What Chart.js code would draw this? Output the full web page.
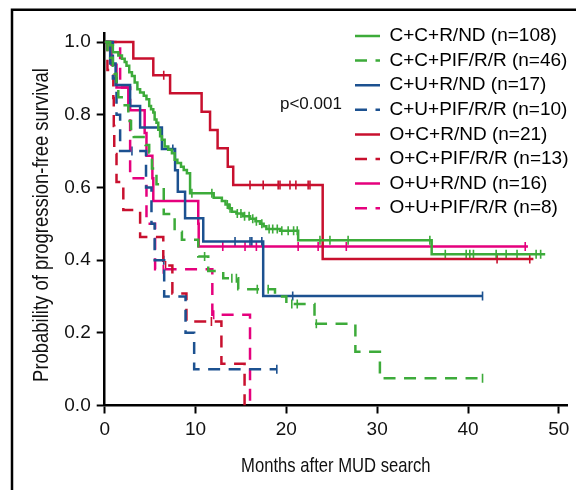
<!DOCTYPE html>
<html>
<head>
<meta charset="utf-8">
<script src="https://cdn.jsdelivr.net/npm/chart.js@4.4.1/dist/chart.umd.min.js"></script>
<style>
  html, body { margin: 0; padding: 0; background: #fff; }
  #wrap { width: 576px; height: 490px; position: relative; }
</style>
</head>
<body>
<div id="wrap"><canvas id="km" width="576" height="490"></canvas></div>
<script>
// ---------------- data ----------------
const seriesNames = [
  'C+C+R/ND (n=108)', 'C+C+PIF/R/R (n=46)', 'C+U+R/ND (n=17)', 'C+U+PIF/R/R (n=10)',
  'O+C+R/ND (n=21)', 'O+C+PIF/R/R (n=13)', 'O+U+R/ND (n=16)', 'O+U+PIF/R/R (n=8)'
];

// C+C+R/ND
const tCCR = [0, 0.6, 0.9, 1.5, 1.9, 2.2, 2.4, 2.7, 3.0, 3.3, 3.6, 3.9, 4.3, 4.6, 4.9, 5.1, 5.35, 5.5, 5.7, 5.9, 6.1, 6.3, 6.6, 7.0, 7.4, 7.7, 8.0, 8.4, 8.7, 9.05, 9.4, 12.0, 12.9, 13.3, 13.7, 14.0, 14.5, 15.2, 16.0, 16.6, 17.1, 17.5, 17.8, 19.3, 21.3, 36.0, 48.5];
const sCCR = [1, 0.991, 0.972, 0.963, 0.954, 0.945, 0.935, 0.917, 0.907, 0.889, 0.870, 0.861, 0.852, 0.843, 0.824, 0.815, 0.806, 0.787, 0.778, 0.759, 0.741, 0.731, 0.713, 0.704, 0.694, 0.676, 0.667, 0.657, 0.648, 0.639, 0.584, 0.572, 0.563, 0.553, 0.543, 0.533, 0.528, 0.521, 0.514, 0.507, 0.500, 0.493, 0.486, 0.481, 0.455, 0.416, 0.416];
const cCCR = [9.6, 11.8, 13.5, 13.8, 14.6, 15.0, 15.4, 15.9, 16.3, 16.7, 17.3, 18.1, 18.5, 19.0, 19.5, 20.2, 20.8, 21.2, 23.7, 24.8, 26.8, 35.8, 37.5, 39.8, 40.2, 40.6, 43.1, 44.2, 45.4, 47.5, 48.0];

// C+C+PIF/R/R
const tCCP = [0, 0.3, 0.6, 0.9, 1.1, 1.3, 1.5, 2.2, 2.6, 2.9, 3.2, 4.5, 4.9, 5.2, 5.7, 6.5, 7.7, 8.5, 10.3, 11.4, 13.05, 14.7, 18.75, 20.0, 23.1, 27.6, 30.3, 41.6];
const sCCP = [1, 0.978, 0.957, 0.935, 0.913, 0.870, 0.848, 0.826, 0.783, 0.761, 0.739, 0.717, 0.696, 0.652, 0.609, 0.527, 0.478, 0.456, 0.410, 0.370, 0.350, 0.320, 0.300, 0.279, 0.225, 0.148, 0.075, 0.075];
const cCCP = [11.0, 14.0, 14.5, 16.8, 18.0, 20.6, 21.2, 23.3, 41.6];

// C+U+R/ND
const tCUR = [0, 0.6, 1.2, 2.8, 3.9, 6.3, 7.75, 8.05, 8.85, 10.85, 17.45, 41.6];
const sCUR = [1, 0.941, 0.882, 0.824, 0.765, 0.706, 0.647, 0.588, 0.515, 0.451, 0.301, 0.301];
const cCUR = [7.5, 14.35, 16.0, 16.2, 17.3, 20.7, 41.6];

// C+U+PIF/R/R
const tCUP = [0, 0.9, 1.3, 1.7, 4.55, 5.15, 5.5, 6.55, 8.9, 9.85, 18.95];
const sCUP = [1, 0.9, 0.8, 0.7, 0.6, 0.5, 0.4, 0.3, 0.2, 0.1, 0.1];
const cCUP = [3.0, 6.5, 18.95];

// O+C+R/ND
const tOCR = [0, 3.15, 5.35, 7.2, 10.67, 11.6, 12.43, 13.55, 14.15, 24.0, 47.2];
const sOCR = [1, 0.955, 0.909, 0.859, 0.808, 0.758, 0.708, 0.657, 0.607, 0.403, 0.403];
const cOCR = [6.5, 16.0, 17.45, 19.1, 19.3, 20.4, 21.05, 22.4, 22.6, 43.2, 46.8];

// O+C+PIF/R/R
const tOCP = [0, 0.3, 0.95, 1.0, 1.05, 1.3, 2.05, 3.9, 6.45, 7.45, 9.0, 12.85, 15.4];
const sOCP = [1, 0.923, 0.846, 0.769, 0.692, 0.615, 0.538, 0.464, 0.385, 0.308, 0.231, 0.115, 0];
const cOCP = [6.7, 11.75];

// O+U+R/ND
const tOUR = [0, 0.75, 1.3, 2.6, 4.4, 4.6, 5.25, 5.35, 10.3, 10.35, 46.6];
const sOUR = [1, 0.9375, 0.875, 0.8125, 0.75, 0.6875, 0.625, 0.5625, 0.5, 0.4375, 0.4375];
const cOUR = [13.0, 15.45, 16.7, 21.3, 23.5, 26.6, 46.3];

// O+U+PIF/R/R
const tOUP = [0, 1.7, 2.8, 4.6, 5.55, 11.85, 16.0];
const sOUP = [1, 0.875, 0.625, 0.5, 0.375, 0.25, 0];
const cOUP = [6.45, 12.0];

const xTickValues = [0, 10, 20, 30, 40, 50];
const yTickValues = [0, 0.2, 0.4, 0.6, 0.8, 1.0];
const xTitle = 'Months after MUD search';
const yTitle = 'Probability of progression-free survival';
const pValueText = 'p<0.001';

// ---------------- styles ----------------
const GREEN = '#3dab3a', BLUE = '#1c5190', RED = '#c8102e', PINK = '#e5007d';
const DASH = [12, 8.5];
const seriesStyle = [
  {color: GREEN, dash: []}, {color: GREEN, dash: DASH},
  {color: BLUE, dash: []},  {color: BLUE, dash: DASH},
  {color: RED, dash: []},   {color: RED, dash: DASH},
  {color: PINK, dash: []},  {color: PINK, dash: DASH}
];
const curveTimes = [tCCR, tCCP, tCUR, tCUP, tOCR, tOCP, tOUR, tOUP];
const curveSurv  = [sCCR, sCCP, sCUR, sCUP, sOCR, sOCP, sOUR, sOUP];
const curveCens  = [cCCR, cCCP, cCUR, cCUP, cOCR, cOCP, cOUR, cOUP];

function survAt(times, surv, t) {
  let s = surv[0];
  for (let i = 0; i < times.length; i++) { if (times[i] <= t) s = surv[i]; }
  return s;
}

const datasets = [];
seriesNames.forEach((name, i) => {
  datasets.push({
    type: 'line',
    label: name,
    data: curveTimes[i].map((t, k) => ({x: t, y: curveSurv[i][k]})),
    stepped: true,
    borderColor: seriesStyle[i].color,
    backgroundColor: seriesStyle[i].color,
    borderWidth: 2.5,
    borderDash: seriesStyle[i].dash,
    pointRadius: 0,
    fill: false,
    tension: 0,
    isCurve: true
  });
});
seriesNames.forEach((name, i) => {
  datasets.push({
    type: 'scatter',
    label: name + ' censored',
    data: curveCens[i].map(t => ({x: t, y: survAt(curveTimes[i], curveSurv[i], t)})),
    showLine: false,
    pointStyle: 'line',
    rotation: 90,
    pointRadius: 4.5,
    pointHoverRadius: 4.5,
    borderColor: seriesStyle[i].color,
    backgroundColor: seriesStyle[i].color,
    pointBorderWidth: 1.6,
    borderWidth: 1.6,
    isCurve: false
  });
});

const FONT = "'Liberation Sans', Arial, Helvetica, sans-serif";

// axis titles drawn as condensed text (the reference uses a narrow face)
function drawCondensed(ctx, text, x, y, rot, size, squeeze) {
  ctx.save();
  ctx.translate(x, y);
  ctx.rotate(rot);
  ctx.scale(squeeze, 1);
  ctx.font = size + 'px ' + FONT;
  ctx.fillStyle = '#111';
  ctx.textAlign = 'center';
  ctx.textBaseline = 'alphabetic';
  ctx.fillText(text, 0, 0);
  ctx.restore();
}

const framePlugin = {
  id: 'frame',
  beforeDraw(chart) {
    const ctx = chart.ctx;
    ctx.save();
    ctx.strokeStyle = '#000';
    ctx.lineWidth = 2.5;
    ctx.beginPath();
    ctx.moveTo(12, 490);
    ctx.lineTo(12, 9.7);
    ctx.lineTo(576, 9.7);
    ctx.stroke();
    ctx.restore();
  },
  afterDraw(chart) {
    const ctx = chart.ctx;
    const xs = chart.scales.x, ys = chart.scales.y;
    ctx.save();
    ctx.fillStyle = '#111';
    ctx.font = '17px ' + FONT;
    ctx.textBaseline = 'middle';
    ctx.textAlign = 'left';
    ctx.fillText(pValueText, xs.getPixelForValue(19.3), ys.getPixelForValue(0.829));
    ctx.restore();
    const ca = chart.chartArea;
    drawCondensed(ctx, xTitle, (ca.left + ca.right) / 2, 471.7, 0, 20.3, 0.82);
    drawCondensed(ctx, yTitle, 48.3, 225, -Math.PI / 2, 22.5, 0.82);
  }
};

const legendPlacer = {
  id: 'legendPlacer',
  afterLayout(chart) {
    const lg = chart.legend;
    if (!lg) return;
    const w = lg.width, h = lg.height;
    lg.left = 349.4; lg.right = lg.left + w;
    lg.top = 20.9; lg.bottom = lg.top + h;
  }
};

new Chart(document.getElementById('km'), {
  type: 'line',
  data: { datasets },
  options: {
    responsive: false,
    animation: false,
    events: [],
    layout: { padding: { left: 0, right: 9, top: 33, bottom: 0 } },
    plugins: {
      tooltip: { enabled: false },
      legend: {
        display: true,
        position: 'chartArea',
        align: 'start',
        labels: {
          usePointStyle: true,
          pointStyleWidth: 25,
          boxHeight: 19,
          padding: 5.6,
          color: '#111',
          font: { family: FONT, size: 19 },
          filter: (item, data) => data.datasets[item.datasetIndex].isCurve,
          generateLabels: (chart) => chart.data.datasets.map((ds, i) => ({
            text: ds.label,
            datasetIndex: i,
            strokeStyle: ds.borderColor,
            fillStyle: ds.borderColor,
            lineWidth: 2.5,
            lineDash: ds.borderDash,
            pointStyle: 'line',
            rotation: 0,
            hidden: false
          }))
        }
      }
    },
    scales: {
      x: {
        type: 'linear',
        min: 0,
        max: 50.9,
        afterBuildTicks: (s) => { s.ticks = xTickValues.map(v => ({value: v})); },
        afterFit: (s) => { s.height = 84.5; },
        grid: { drawOnChartArea: false, drawTicks: true, tickLength: 8, tickWidth: 2, tickColor: '#000' },
        border: { display: true, color: '#000', width: 2.5 },
        ticks: { color: '#111', font: { family: FONT, size: 19 }, padding: 5, maxRotation: 0,
                 callback: (v) => String(v) },
        title: { display: false, text: xTitle }
      },
      y: {
        type: 'linear',
        min: 0,
        max: 1.025,
        afterBuildTicks: (s) => { s.ticks = yTickValues.map(v => ({value: v})); },
        afterFit: (s) => { s.width = 104.7; },
        grid: { drawOnChartArea: false, drawTicks: true, tickLength: 8, tickWidth: 2, tickColor: '#000' },
        border: { display: true, color: '#000', width: 2.5 },
        ticks: { color: '#111', font: { family: FONT, size: 19 }, padding: 6,
                 callback: (v) => Number(v).toFixed(1) },
        title: { display: false, text: yTitle }
      }
    }
  },
  plugins: [framePlugin, legendPlacer]
});
</script>
</body>
</html>
